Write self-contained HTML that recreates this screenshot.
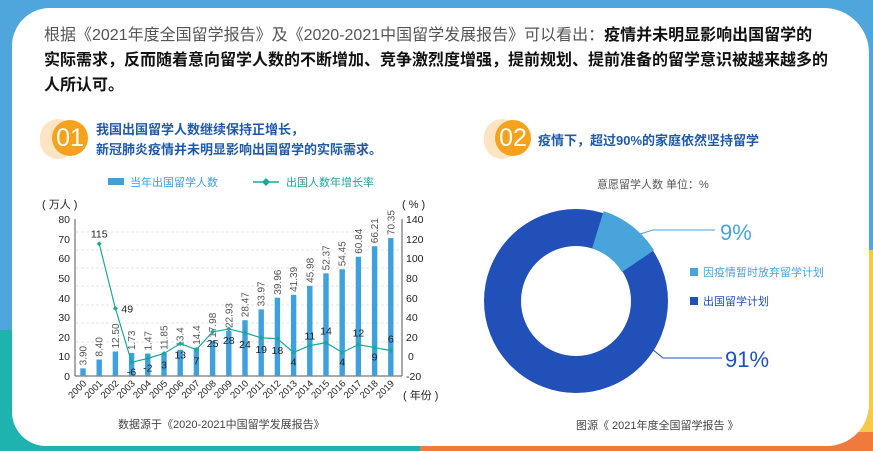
<!DOCTYPE html>
<html><head><meta charset="utf-8"><style>
body{margin:0;width:873px;height:451px;overflow:hidden;position:relative;font-family:"Liberation Sans","Noto Sans CJK SC",sans-serif;background:#4ea6dc;}
.bg{position:absolute;}
.card{position:absolute;left:12px;top:8px;width:857px;height:438px;background:#fff;border-radius:38px 45px 42px 34px;}
.t{position:absolute;white-space:nowrap;}
</style></head><body>
<div class="bg" style="left:780px;top:250px;width:93px;height:201px;background:#f7c84e"></div>
<div class="bg" style="left:0;top:330px;width:60px;height:121px;background:#1fb3b0"></div>
<div class="bg" style="left:0;top:432px;width:873px;height:19px;background:#f07a3c"></div>
<div class="bg" style="left:0;top:432px;width:420px;height:19px;background:#1fb3b0"></div>
<div class="card"></div>
<div class="t" style="left:44px;top:23px;font-size:16px;line-height:25px;color:#111;white-space:normal;width:790px"><span style="color:#555">根据《2021年度全国留学报告》及《2020-2021中国留学发展报告》可以看出：</span><b>疫情并未明显影响出国留学的<br>实际需求，反而随着意向留学人数的不断增加、竞争激烈度增强，提前规划、提前准备的留学意识被越来越多的<br>人所认可。</b></div>
<!-- badges -->
<div class="bg" style="left:40px;top:119px;width:36px;height:40px;border-radius:18px;background:#fde5c4"></div>
<div class="bg" style="left:52px;top:120px;width:36px;height:36px;border-radius:50%;background:#f7a21c;color:#fff;font-size:25px;line-height:36px;text-align:center">01</div>
<div class="t" style="left:96px;top:120px;font-size:13px;line-height:20px;color:#1e5aa8;font-weight:bold">我国出国留学人数继续保持正增长，<br>新冠肺炎疫情并未明显影响出国留学的实际需求。</div>
<div class="bg" style="left:484px;top:119px;width:36px;height:40px;border-radius:18px;background:#fde5c4"></div>
<div class="bg" style="left:495px;top:120px;width:36px;height:36px;border-radius:50%;background:#f7a21c;color:#fff;font-size:25px;line-height:36px;text-align:center">02</div>
<div class="t" style="left:538px;top:130px;font-size:13px;color:#1e5aa8;font-weight:bold">疫情下，超过90%的家庭依然坚持留学</div>

<svg class="bg" style="left:0;top:0" width="873" height="451" font-family="Liberation Sans, Noto Sans CJK SC, sans-serif">
<rect x="108" y="178" width="16" height="7" fill="#3ea0dc"/>
<text x="130" y="186" font-size="11" fill="#3ea0dc">当年出国留学人数</text>
<line x1="253" y1="182" x2="279" y2="182" stroke="#1aa89a" stroke-width="1.5"/>
<path d="M266 178 L270 182 266 186 262 182Z" fill="#1aa89a"/>
<text x="286" y="186" font-size="11" fill="#1aa89a">出国人数年增长率</text>
<text x="42" y="208" font-size="11" fill="#222">( 万人 )</text>
<text x="402" y="208" font-size="11" fill="#222">( % )</text>
<g stroke="#ccc" stroke-dasharray="3,2" stroke-width="0.6">
<line x1="76" y1="232" x2="400" y2="232"/><line x1="76" y1="250" x2="400" y2="250"/><line x1="76" y1="268" x2="400" y2="268"/><line x1="76" y1="286" x2="400" y2="286"/><line x1="76" y1="305" x2="400" y2="305"/><line x1="76" y1="323" x2="400" y2="323"/><line x1="76" y1="342" x2="400" y2="342"/></g>
<line x1="75" y1="219" x2="75" y2="376" stroke="#555"/>
<line x1="402" y1="219" x2="402" y2="376" stroke="#555"/>
<line x1="75" y1="376" x2="402" y2="376" stroke="#555"/>
<g font-size="10.5" fill="#222" text-anchor="end">
<text x="70" y="380">0</text><text x="70" y="360">10</text><text x="70" y="341">20</text><text x="70" y="321">30</text><text x="70" y="302">40</text><text x="70" y="282">50</text><text x="70" y="262">60</text><text x="70" y="243">70</text><text x="70" y="223">80</text></g>
<g font-size="10.5" fill="#222">
<text x="406" y="380">-20</text><text x="408" y="360">0</text><text x="406" y="341">20</text><text x="406" y="321">40</text><text x="406" y="302">60</text><text x="406" y="282">80</text><text x="406" y="262">100</text><text x="406" y="243">120</text><text x="406" y="223">140</text></g>
<g id="bars"></g><g id="lbl"></g>
<polyline id="ln" fill="none" stroke="#1aa89a" stroke-width="1.2"/>
<g id="pts"></g>
<text x="403" y="399" font-size="11" fill="#222">( 年份 )</text>
<text x="118" y="428" font-size="11" fill="#444">数据源于《2020-2021中国留学发展报告》</text>

<text x="597" y="188" font-size="11" fill="#555">意愿留学人数  单位：%</text>
<circle cx="576" cy="301" r="73.5" fill="none" stroke="#2150b8" stroke-width="37"/>
<path d="M603.6 211.1 A93 93 0 0 1 654 250.3 L622 272 A55 55 0 0 0 592.1 248.4Z" fill="#49a4dc"/>
<polyline points="640,234 653,230 715,230" fill="none" stroke="#49a4dc"/>
<text x="720" y="240" font-size="22" fill="#49a4dc">9%</text>
<polyline points="652,349 663,358 722,358" fill="none" stroke="#2150b8"/>
<text x="725" y="367" font-size="22" fill="#2150b8">91%</text>
<rect x="690" y="268" width="8" height="8" fill="#49a4dc"/>
<text x="703" y="276" font-size="11" fill="#49a4dc">因疫情暂时放弃留学计划</text>
<rect x="690" y="297" width="8" height="8" fill="#2150b8"/>
<text x="703" y="305" font-size="11" fill="#2150b8">出国留学计划</text>
<text x="576" y="429" font-size="11" fill="#444">图源《 2021年度全国留学报告 》</text>
</svg>
<script>
var v=[3.9,8.4,12.5,11.73,11.47,11.85,13.4,14.4,17.98,22.93,28.47,33.97,39.96,41.39,45.98,52.37,54.45,60.84,66.21,70.35];
var vl=["3.90","8.40","12.50","1.73","1.47","11.85","13.4","14.4","17.98","22.93","28.47","33.97","39.96","41.39","45.98","52.37","54.45","60.84","66.21","70.35"];
var g=[null,115,49,-6,-2,3,13,7,25,28,24,19,18,4,11,14,4,12,9,6];
var ns="http://www.w3.org/2000/svg",B=document.getElementById('bars'),L=document.getElementById('lbl'),P=document.getElementById('pts'),s="";
function el(t,a,p,txt){var e=document.createElementNS(ns,t);for(var k in a)e.setAttribute(k,a[k]);if(txt)e.textContent=txt;p.appendChild(e);}
for(var i=0;i<20;i++){var x=83+i*16.2,h=v[i]*1.96;
el('rect',{x:x-2.7,y:376-h,width:5.4,height:h,fill:'#3ea0dc'},B);
el('text',{x:x+3.5,y:373-h,'font-size':10,fill:'#555',transform:'rotate(-90 '+(x+3.5)+' '+(373-h)+')'},L,vl[i]);
el('text',{x:x+4,y:384,'font-size':9.5,fill:'#222','text-anchor':'end',transform:'rotate(-45 '+(x+4)+' '+384+')'},L,String(2000+i));
if(g[i]!==null){var y=356.4-g[i]*0.98;s+=x+","+y+" ";el('path',{d:'M'+x+' '+(y-2.5)+'L'+(x+2.5)+' '+y+' '+x+' '+(y+2.5)+' '+(x-2.5)+' '+y+'Z',fill:'#1aa89a'},P);
var ty=g[i]<0||i==13||i==16||i==18?y+13:(i>=5&&i<=12?y+15:y-6);if(i==1)ty=y-6;if(i==2){el('text',{x:x+6,y:y+4,'font-size':10.5,fill:'#222'},L,'49');continue;}
if(i==15||i==17||i==19)ty=y-8;
el('text',{x:x,y:ty,'font-size':10.5,fill:'#222','text-anchor':'middle'},L,String(g[i]));}}
document.getElementById('ln').setAttribute('points',s);
</script>
</body></html>
